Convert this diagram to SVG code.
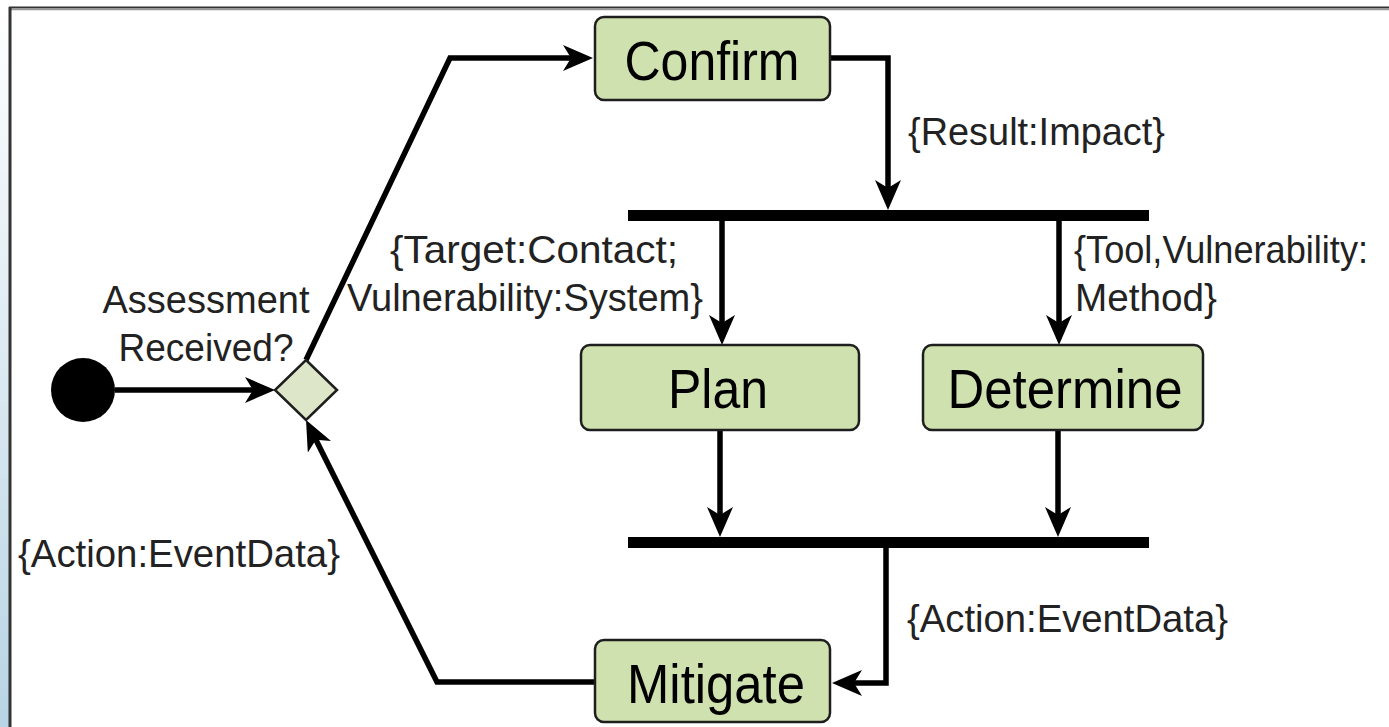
<svg xmlns="http://www.w3.org/2000/svg" width="1389" height="727" viewBox="0 0 1389 727">
  <defs>
    <linearGradient id="edge" x1="0" y1="0" x2="0" y2="1">
      <stop offset="0" stop-color="#ffffff"/>
      <stop offset="1" stop-color="#b8d4e4"/>
    </linearGradient>
    <marker id="arrow" viewBox="0 0 30 26" refX="20" refY="13" markerWidth="30" markerHeight="26" orient="auto" markerUnits="userSpaceOnUse">
      <path d="M0,0 L30,13 L0,26 L8,13 z" fill="#000"/>
    </marker>
    <style>
      .action { fill: #d0e1b0; stroke: #1e1e1e; stroke-width: 2.5; }
      .name { font-family: "Liberation Sans", Arial, sans-serif; font-size: 55px; fill: #000; text-anchor: middle; }
      .label { font-family: "Liberation Sans", Arial, sans-serif; font-size: 39px; fill: #222; }
      .flow { fill: none; stroke: #000; stroke-width: 5.5; marker-end: url(#arrow); }
      .bar { fill: #000; }
    </style>
  </defs>

  <!-- page background and frame -->
  <rect x="0" y="0" width="1389" height="727" fill="#ffffff"/>
  <rect x="0" y="8" width="9" height="719" fill="url(#edge)"/>
  <line x1="9" y1="7.5" x2="1389" y2="7.5" stroke="#333" stroke-width="2"/>
  <line x1="11" y1="9.5" x2="1389" y2="9.5" stroke="#999" stroke-width="1.5"/>
  <line x1="10" y1="7" x2="10" y2="727" stroke="#333" stroke-width="3"/>

  <!-- connectors -->
  <g id="connectors">
    <path class="flow" d="M115,390 H265"/>
    <path class="flow" d="M306,360 L450,58 H583"/>
    <path class="flow" d="M830,58 H888 V200"/>
    <path class="flow" d="M722,221 V335"/>
    <path class="flow" d="M1059,221 V335"/>
    <path class="flow" d="M720,430 V527"/>
    <path class="flow" d="M1058,430 V527"/>
    <path class="flow" d="M886,548 V683 H842"/>
    <path class="flow" d="M595,682 H437 L310.5,428.9"/>
    <text class="label" x="908" y="145" textLength="257" lengthAdjust="spacingAndGlyphs">{Result:Impact}</text>
    <text class="label" x="390" y="263" textLength="288" lengthAdjust="spacingAndGlyphs">{Target:Contact;</text>
    <text class="label" x="347" y="311" textLength="356" lengthAdjust="spacingAndGlyphs">Vulnerability:System}</text>
    <text class="label" x="1074" y="263" font-size="37" textLength="294" lengthAdjust="spacingAndGlyphs">{Tool,Vulnerability:</text>
    <text class="label" x="1075" y="311" textLength="142" lengthAdjust="spacingAndGlyphs">Method}</text>
    <text class="label" x="907" y="632" textLength="321" lengthAdjust="spacingAndGlyphs">{Action:EventData}</text>
    <text class="label" x="18" y="567" textLength="322" lengthAdjust="spacingAndGlyphs">{Action:EventData}</text>
  </g>

  <!-- initial node -->
  <g id="start">
    <circle cx="83" cy="390" r="32" fill="#000"/>
  </g>

  <!-- decision node -->
  <g id="decision">
    <polygon points="306,360 337,390 306,420 275,390" fill="#dde6c8" stroke="#1e1e1e" stroke-width="2.5"/>
    <text class="label" x="206" y="313" text-anchor="middle" textLength="207" lengthAdjust="spacingAndGlyphs">Assessment</text>
    <text class="label" x="206" y="361" text-anchor="middle" textLength="175" lengthAdjust="spacingAndGlyphs">Received?</text>
  </g>

  <g id="confirm">
    <rect class="action" x="595" y="17" width="235" height="83" rx="9"/>
    <text class="name" x="712" y="80" textLength="175" lengthAdjust="spacingAndGlyphs">Confirm</text>
  </g>

  <g id="fork">
    <rect class="bar" x="628" y="210" width="521" height="11"/>
  </g>

  <g id="plan">
    <rect class="action" x="581" y="345" width="278" height="85" rx="9"/>
    <text class="name" x="718" y="408" textLength="100" lengthAdjust="spacingAndGlyphs">Plan</text>
  </g>

  <g id="determine">
    <rect class="action" x="923" y="345" width="280" height="85" rx="9"/>
    <text class="name" x="1065" y="408" textLength="235" lengthAdjust="spacingAndGlyphs">Determine</text>
  </g>

  <g id="join">
    <rect class="bar" x="628" y="537" width="521" height="11"/>
  </g>

  <g id="mitigate">
    <rect class="action" x="595" y="640" width="235" height="82" rx="9"/>
    <text class="name" x="716" y="703" textLength="178" lengthAdjust="spacingAndGlyphs">Mitigate</text>
  </g>
</svg>
